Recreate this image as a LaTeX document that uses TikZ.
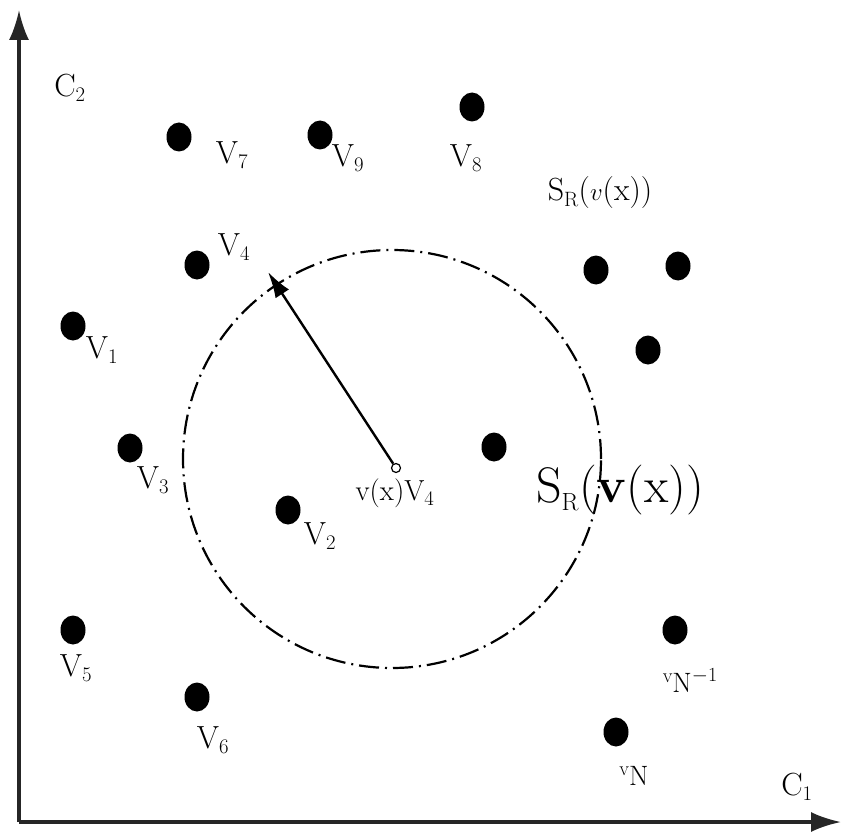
\documentclass[tikz,border=0pt]{standalone}
\usetikzlibrary{arrows.meta,shapes.geometric}
\newcommand{\smallv}[1]{{\fontsize{20}{20}\selectfont #1}}
\begin{document}
\begin{tikzpicture}[x=1pt,y=-1pt,
  pt/.style={ellipse,fill=black,minimum width=25pt,minimum height=29pt,inner sep=0pt},
  lab/.style={inner sep=0pt,font=\fontsize{32}{36}\selectfont},
  axis/.style={line width=3.2pt,draw=black!85,-{Latex[length=30pt,width=20pt]}}]
\useasboundingbox (0,0) rectangle (841,832);
% axes
\coordinate (O) at (19,822);
\coordinate (ytop) at (19,10);
\coordinate (xend) at (841,822);
\draw[axis] (O) -- (ytop);
\draw[axis] (O) -- (xend);
\node[lab] (c2) at (70,88) {C$_2$};
\node[lab] (c1) at (797,787) {C$_1$};
% circle
\node[circle,draw,line width=2.2pt,dash pattern=on 20pt off 6pt on 2pt off 6pt,minimum size=418pt,inner sep=0pt] (sr) at (392,459) {};
% points
\node[pt] (v7) at (179,137) {};
\node[lab] (l7) at (232,155) {V$_7$};
\node[pt] (v9) at (320,135) {};
\node[lab] (l9) at (348,158) {V$_9$};
\node[pt] (v8) at (472,107) {};
\node[lab] (l8) at (466,158) {V$_8$};
\node[pt] (v4) at (197,265) {};
\node[lab] (l4) at (234,247) {V$_4$};
\node[pt] (v1) at (73,326) {};
\node[lab] (l1) at (102,350) {V$_1$};
\node[pt] (v3) at (130,448) {};
\node[lab] (l3) at (153,480) {V$_3$};
\node[pt] (v2) at (288,510) {};
\node[lab] (l2) at (320,536) {V$_2$};
\node[pt] (vc) at (494,447) {};
\node[pt] (v5) at (73,630) {};
\node[lab] (l5) at (76,668) {V$_5$};
\node[pt] (v6) at (197,697) {};
\node[lab] (l6) at (213,740) {V$_6$};
\node[pt] (vn1) at (675,630) {};
\node[lab,font=\fontsize{28}{32}\selectfont] (ln1) at (690,680) {\raisebox{10pt}{\smallv{v}}N\raisebox{11pt}{\smallv{$-$1}}};
\node[pt] (vn) at (616,732) {};
\node[lab,font=\fontsize{28}{32}\selectfont] (ln) at (634,776) {\raisebox{10pt}{\smallv{v}}N};
\node[pt] (r1) at (596,270) {};
\node[pt] (r2) at (678,266) {};
\node[pt] (r3) at (648,350) {};
% labels
\node[lab] (srs) at (600,193) {S$_{\mathrm{R}}$($v$(x))};
\node[inner sep=0pt,font=\fontsize{50}{54}\selectfont] (srb) at (620,490) {S$_{\mathrm{R}}$(\textbf{v}(x))};
\node[inner sep=0pt,font=\fontsize{29}{32}\selectfont] (vx) at (395,493) {v(x)V$_4$};
% center and radius arrow
\node[circle,draw,line width=1.2pt,minimum size=9pt,inner sep=0pt,fill=white] (c) at (396,468) {};
\coordinate (tip) at (268,272);
\draw[line width=2.4pt,-{Latex[length=26pt,width=16pt]}] (c) -- (tip);
\end{tikzpicture}
\end{document}
